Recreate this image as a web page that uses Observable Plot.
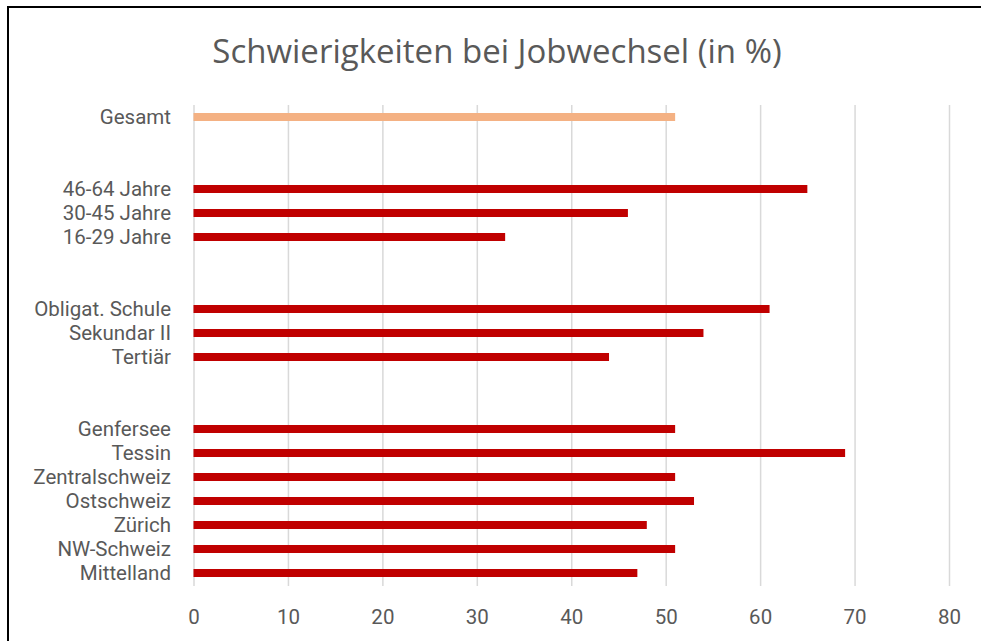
<!DOCTYPE html>
<html>
<head>
<meta charset="utf-8">
<script src="https://cdn.jsdelivr.net/npm/d3@7"></script>
<script src="https://cdn.jsdelivr.net/npm/@observablehq/plot@0.6"></script>
<style>
html, body { margin: 0; padding: 0; background: #fff; }
#wrap { position: relative; width: 981px; height: 641px; overflow: hidden; font-family: "Open Sans", Lato, sans-serif; }
#frame { position: absolute; left: 7px; top: 6px; width: 1100px; height: 800px; border-left: 2px solid #000; border-top: 2px solid #000; box-sizing: border-box; }
#title { position: absolute; left: 0; top: 34px; width: 994px; text-align: center; font-size: 33px; line-height: 1; color: #595959; white-space: nowrap; }
#chart { position: absolute; left: 0; top: 100px; }
</style>
</head>
<body>
<div id="wrap">
  <div id="frame"></div>
  <div id="title">Schwierigkeiten bei Jobwechsel (in %)</div>
  <div id="chart"></div>
</div>
<script>
// Data
const totalLabels = ["Gesamt"];
const totalValues = [51];
const ageLabels = ["46-64 Jahre", "30-45 Jahre", "16-29 Jahre"];
const ageValues = [65, 46, 33];
const eduLabels = ["Obligat. Schule", "Sekundar II", "Tertiär"];
const eduValues = [61, 54, 44];
const regionLabels = ["Genfersee", "Tessin", "Zentralschweiz", "Ostschweiz", "Zürich", "NW-Schweiz", "Mittelland"];
const regionValues = [51, 69, 51, 53, 48, 51, 47];
const xTicks = [0, 10, 20, 30, 40, 50, 60, 70, 80];

const totalColor = "#F4B183";
const groupColor = "#C00000";

const groups = [
  {labels: totalLabels, values: totalValues, color: totalColor},
  {labels: ageLabels, values: ageValues, color: groupColor},
  {labels: eduLabels, values: eduValues, color: groupColor},
  {labels: regionLabels, values: regionValues, color: groupColor}
];

// Build band domain with two empty rows between groups
const domain = [];
const rows = [];
groups.forEach((g, gi) => {
  if (gi > 0) { domain.push(`__gap${gi}a`); domain.push(`__gap${gi}b`); }
  g.labels.forEach((l, i) => {
    domain.push(l);
    rows.push({label: l, value: g.values[i], color: g.color});
  });
});

const chart = Plot.plot({
  width: 981,
  height: 541,
  marginLeft: 193.5,
  marginRight: 32,
  marginTop: 5,
  marginBottom: 55,
  style: {fontFamily: "Roboto, 'Open Sans', sans-serif", fontSize: "20.5px", color: "#595959", background: "transparent"},
  x: {domain: [0, 80], label: null},
  y: {type: "band", domain, paddingInner: 0.65, paddingOuter: 0.325, label: null},
  color: {type: "identity"},
  marks: [
    Plot.ruleX(xTicks, {stroke: "#d9d9d9", strokeWidth: 1.5}),
    Plot.barX(rows, {x: "value", y: "label", fill: "color"}),
    Plot.axisY({tickSize: 0, tickPadding: 23, label: null, tickFormat: d => d.startsWith("__gap") ? "" : d, fill: "#595959"}),
    Plot.axisX({ticks: xTicks, tickSize: 0, tickPadding: 23, label: null, fill: "#595959"})
  ]
});
document.getElementById("chart").appendChild(chart);
</script>
</body>
</html>
